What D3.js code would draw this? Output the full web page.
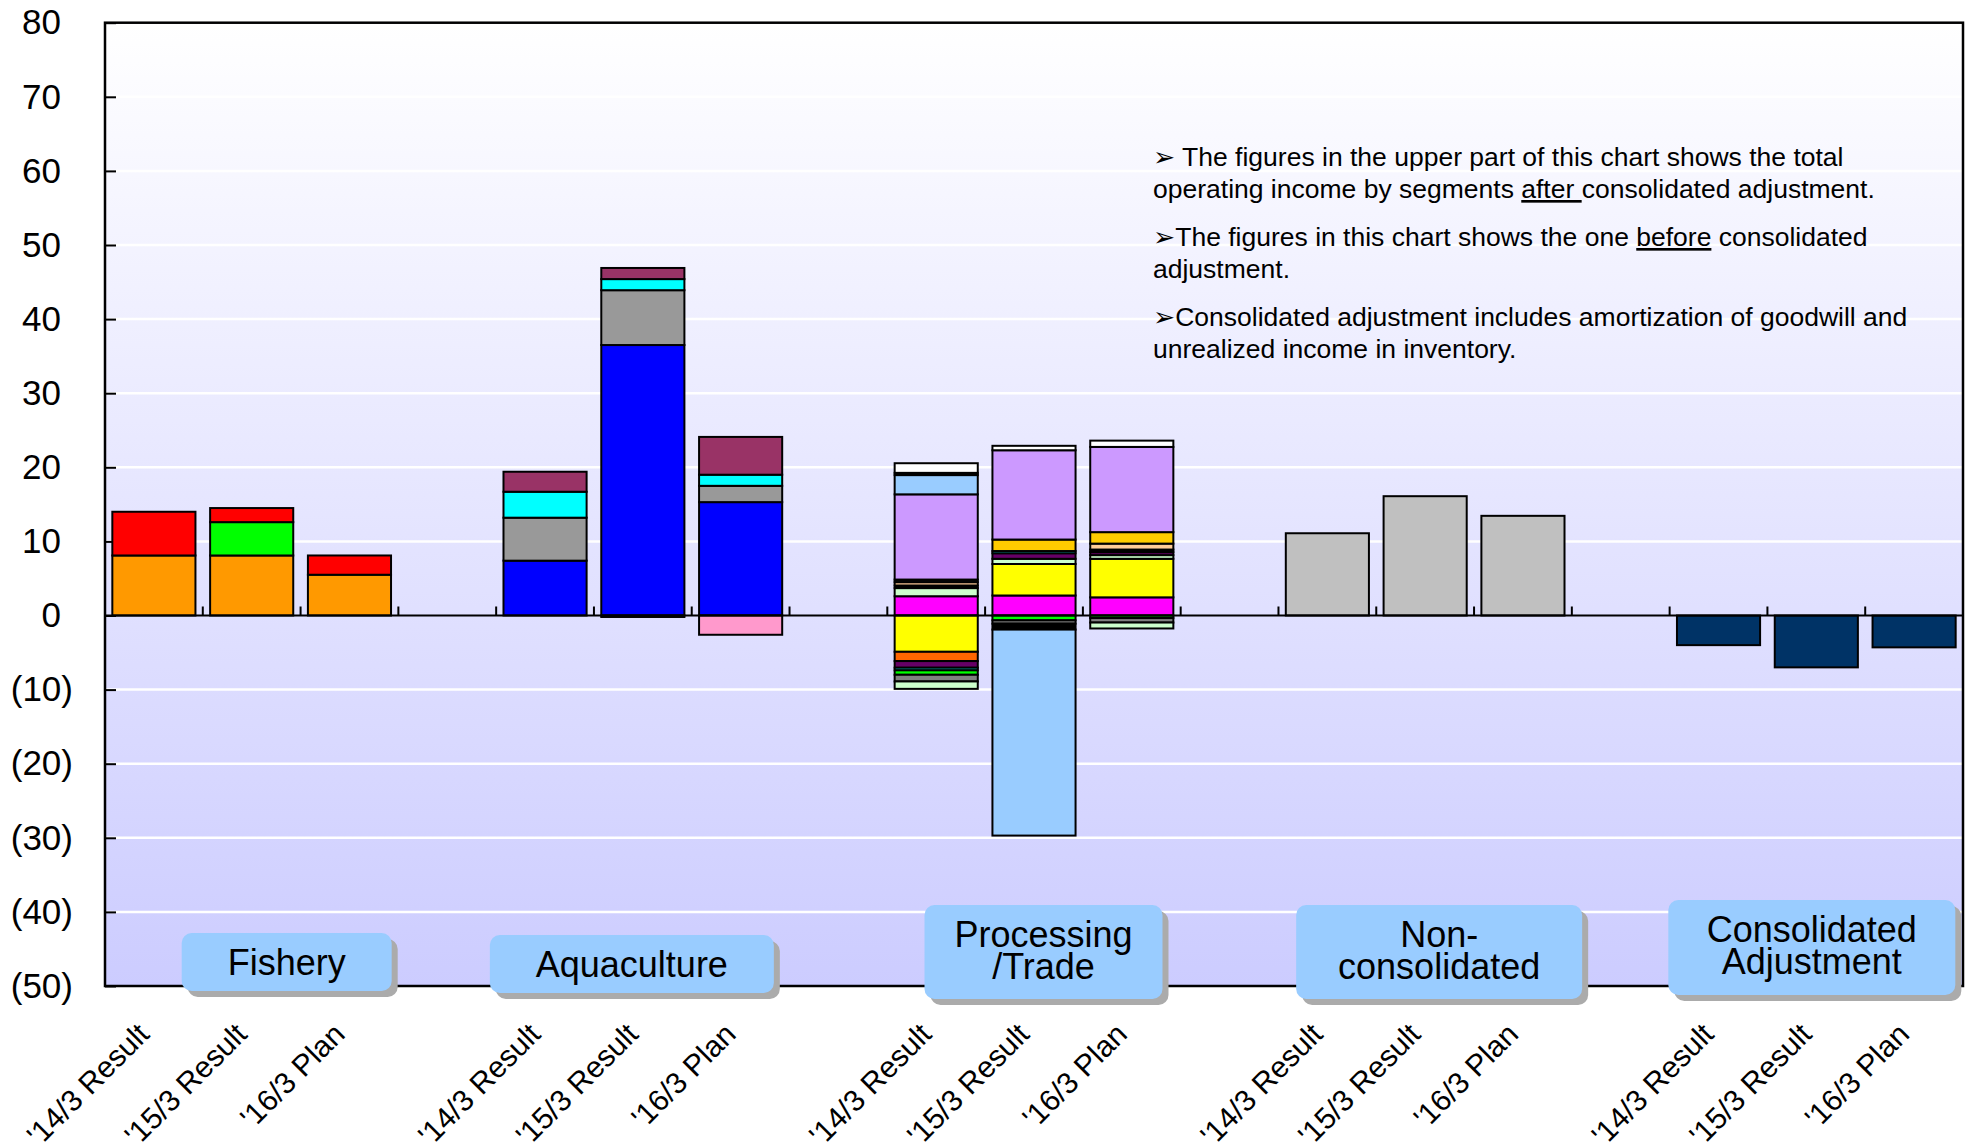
<!DOCTYPE html>
<html>
<head>
<meta charset="utf-8">
<script src="https://cdn.jsdelivr.net/npm/d3@7"></script>
<style>
  html, body { margin: 0; padding: 0; background: #ffffff; }
  svg { display: block; font-family: "Liberation Sans", Arial, "DejaVu Sans", sans-serif; }
</style>
</head>
<body>
<script>
// ---- Data -------------------------------------------------------------
const periods = ["'14/3 Result", "'15/3 Result", "'16/3 Plan"];
const segmentNames = ["Fishery", "Aquaculture", "Processing/Trade", "Non-consolidated", "Consolidated Adjustment"];
const segmentBoxLines = [["Fishery"], ["Aquaculture"], ["Processing", "/Trade"], ["Non-", "consolidated"], ["Consolidated", "Adjustment"]];
const yTickValues = [-50, -40, -30, -20, -10, 0, 10, 20, 30, 40, 50, 60, 70, 80];

// operating income components (one row per component, one column per period)
const fisheryValues = [
  [8.1, 8.1, 5.5],
  [0.0, 4.5, 0.0],
  [5.9, 1.9, 2.6]
];
const aquacultureValues = [
  [7.4, 36.5, 15.3],
  [5.8, 7.4, 2.2],
  [3.5, 1.5, 1.5],
  [2.7, 1.5, 5.1],
  [0.0, -0.2, -2.6]
];
const processingValues = [
  [2.6, 2.7, 2.45],
  [-4.9, 4.25, 5.2],
  [1.1, 0.7, 0.5],
  [-1.25, 0.0, 0.0],
  [-0.9, 0.75, 0.4],
  [-0.35, 0.3, 0.0],
  [-0.6, -0.65, -0.35],
  [-0.9, -0.45, -0.6],
  [0.35, -0.8, 0.35],
  [0.45, 0.0, 0.8],
  [0.35, 0.0, 0.0],
  [0.0, 1.55, 1.55],
  [11.5, 12.05, 11.5],
  [2.6, -27.8, 0.0],
  [-1.0, 0.0, -0.8],
  [0.3, 0.0, 0.0],
  [1.3, 0.6, 0.85]
];
const nonConsolidatedValues = [[11.1, 16.1, 13.45]];
const adjustmentValues = [[-4.0, -7.0, -4.3]];

// ---- Styles -------------------------------------------------------------
const fisheryColors = ["#FF9900", "#00FF00", "#FF0000"];
const aquacultureColors = ["#0000FF", "#999999", "#00FFFF", "#993366", "#FF99CC"];
const processingColors = ["#FF00FF", "#FFFF00", "#CCFFCC", "#FF6600", "#660066", "#00FFFF",
  "#00FF00", "#808080", "#000000", "#FFCC99", "#1A1A1A", "#FFCC00", "#CC99FF", "#99CCFF",
  "#CCFFCC", "#000000", "#FFFFFF"];
const nonConsolidatedColors = ["#C0C0C0"];
const adjustmentColors = ["#003366"];

// ---- Layout -------------------------------------------------------------
const W = 1966, H = 1143;
const plot = { left: 105, right: 1963, top: 22.7, bottom: 986 };

const groups = [
  { values: fisheryValues, colors: fisheryColors },
  { values: aquacultureValues, colors: aquacultureColors },
  { values: processingValues, colors: processingColors },
  { values: nonConsolidatedValues, colors: nonConsolidatedColors },
  { values: adjustmentValues, colors: adjustmentColors }
];

// band keys: three periods per segment with an empty slot between segments
const categories = [];
segmentNames.forEach((s, si) => {
  periods.forEach(p => categories.push({ key: s + "|" + p, segment: si, label: p }));
  if (si < segmentNames.length - 1) categories.push({ key: "gap" + si, segment: -1, label: "" });
});

// series keys and the table fed to d3.stack
const seriesKeys = [];
const seriesColor = {};
groups.forEach((g, gi) => {
  g.values.forEach((row, ri) => {
    const k = "s" + gi + "_" + ri;
    seriesKeys.push(k);
    seriesColor[k] = g.colors[ri];
  });
});
const table = categories.map(c => {
  const row = { key: c.key };
  seriesKeys.forEach(k => row[k] = 0);
  if (c.segment >= 0) {
    const pi = periods.indexOf(c.label);
    groups[c.segment].values.forEach((r, ri) => row["s" + c.segment + "_" + ri] = r[pi]);
  }
  return row;
});

const stacked = d3.stack().keys(seriesKeys).offset(d3.stackOffsetDiverging)(table);

// ---- Scales -------------------------------------------------------------
const x = d3.scaleBand().domain(categories.map(c => c.key)).range([plot.left, plot.right]);
const y = d3.scaleLinear().domain([-50, 80]).range([plot.bottom, plot.top]);
const barW = x.bandwidth() * 0.85;
const barOff = (x.bandwidth() - barW) / 2;

const svg = d3.select("body").append("svg").attr("width", W).attr("height", H);

const grad = svg.append("defs").append("linearGradient")
  .attr("id", "plotBg").attr("x1", 0).attr("y1", 0).attr("x2", 0).attr("y2", 1);
grad.append("stop").attr("offset", "0%").attr("stop-color", "#FFFFFF");
grad.append("stop").attr("offset", "100%").attr("stop-color", "#CCCCFF");

svg.append("rect")
  .attr("x", plot.left).attr("y", plot.top)
  .attr("width", plot.right - plot.left).attr("height", plot.bottom - plot.top)
  .attr("fill", "url(#plotBg)");

// gridlines
svg.append("g").selectAll("line")
  .data(yTickValues.filter(v => v !== 0 && v !== -50 && v !== 80))
  .join("line")
  .attr("x1", plot.left).attr("x2", plot.right)
  .attr("y1", d => y(d)).attr("y2", d => y(d))
  .attr("stroke", "#FFFFFF").attr("stroke-width", 2.5);

// y axis
const fmt = v => v < 0 ? "(" + Math.abs(v) + ")" : String(v);
const yAxis = svg.append("g")
  .attr("transform", `translate(${plot.left},0)`)
  .call(d3.axisLeft(y).tickValues(yTickValues).tickSize(-11).tickPadding(32).tickFormat(fmt));
yAxis.select(".domain").remove();
yAxis.selectAll(".tick line").attr("stroke", "#000").attr("stroke-width", 2);
yAxis.selectAll(".tick text")
  .attr("font-size", 35).attr("fill", "#000")
  .attr("font-family", "Liberation Sans, Arial, sans-serif")
  .attr("x", d => d < 0 ? -32 : -44);

// bars
svg.append("g").selectAll("g")
  .data(stacked)
  .join("g")
  .attr("fill", d => seriesColor[d.key])
  .selectAll("rect")
  .data(d => d.filter(s => s[1] - s[0] !== 0))
  .join("rect")
  .attr("x", d => x(d.data.key) + barOff)
  .attr("width", barW)
  .attr("y", d => y(d[1]))
  .attr("height", d => y(d[0]) - y(d[1]))
  .attr("stroke", "#000").attr("stroke-width", 2);

// zero line with category tick marks
svg.append("line")
  .attr("x1", plot.left).attr("x2", plot.right)
  .attr("y1", y(0)).attr("y2", y(0))
  .attr("stroke", "#000").attr("stroke-width", 2);
svg.append("g").selectAll("line")
  .data(categories.slice(1))
  .join("line")
  .attr("x1", d => x(d.key)).attr("x2", d => x(d.key))
  .attr("y1", y(0) - 9).attr("y2", y(0))
  .attr("stroke", "#000").attr("stroke-width", 2);

// plot frame
svg.append("rect")
  .attr("x", plot.left).attr("y", plot.top)
  .attr("width", plot.right - plot.left).attr("height", plot.bottom - plot.top)
  .attr("fill", "none").attr("stroke", "#000").attr("stroke-width", 2.5);

// segment name boxes, placed relative to the middle band of each segment
const boxLayout = [
  { dx: 35, w: 210, top: 933, h: 58 },
  { dx: -11, w: 284, top: 935, h: 58 },
  { dx: 9.5, w: 238, top: 905, h: 94 },
  { dx: 14, w: 286, top: 905, h: 94 },
  { dx: -4.5, w: 287, top: 900, h: 95 }
];
const boxes = svg.append("g").selectAll("g")
  .data(segmentBoxLines.map((lines, i) => {
    const mid = categories.find(c => c.segment === i && c.label === periods[1]);
    return { lines, cx: x(mid.key) + x.bandwidth() / 2 + boxLayout[i].dx, ...boxLayout[i] };
  }))
  .join("g");
boxes.append("rect")
  .attr("x", d => d.cx - d.w / 2 + 6).attr("y", d => d.top + 6)
  .attr("width", d => d.w).attr("height", d => d.h)
  .attr("rx", 10).attr("fill", "#ABABAB");
boxes.append("rect")
  .attr("x", d => d.cx - d.w / 2).attr("y", d => d.top)
  .attr("width", d => d.w).attr("height", d => d.h)
  .attr("rx", 10).attr("fill", "#99CCFF");
boxes.each(function (d) {
  const t = d3.select(this).append("text")
    .attr("text-anchor", "middle").attr("font-size", 36).attr("fill", "#000");
  d.lines.forEach((ln, li) => {
    t.append("tspan").attr("x", d.cx).attr("y", d.top + 42 + li * 32).text(ln);
  });
});

// notes
const notes = [
  [[["\u27A2 The figures in the upper part of this chart shows the total", false]],
   [["operating income by segments ", false], ["after ", true], ["consolidated adjustment.", false]]],
  [[["\u27A2The figures in this chart shows the one ", false], ["before", true], [" consolidated", false]],
   [["adjustment.", false]]],
  [[["\u27A2Consolidated adjustment includes amortization of goodwill and", false]],
   [["unrealized income in inventory.", false]]]
];
const noteG = svg.append("g").attr("font-size", 26.5).attr("fill", "#000");
notes.forEach((para, pi) => {
  para.forEach((line, li) => {
    const t = noteG.append("text")
      .attr("x", 1153).attr("y", 166 + pi * 80 + li * 32);
    line.forEach(([s, u]) => {
      const ts = t.append("tspan").text(s);
      if (u) ts.attr("text-decoration", "underline");
    });
  });
});

// rotated period labels
svg.append("g").selectAll("text")
  .data(categories.filter(c => c.segment >= 0))
  .join("text")
  .attr("transform", d => `translate(${x(d.key) + x.bandwidth() / 2 - 3},${1036}) rotate(-45)`)
  .attr("text-anchor", "end")
  .attr("font-size", 30)
  .attr("fill", "#000")
  .text(d => d.label);
</script>
</body>
</html>
